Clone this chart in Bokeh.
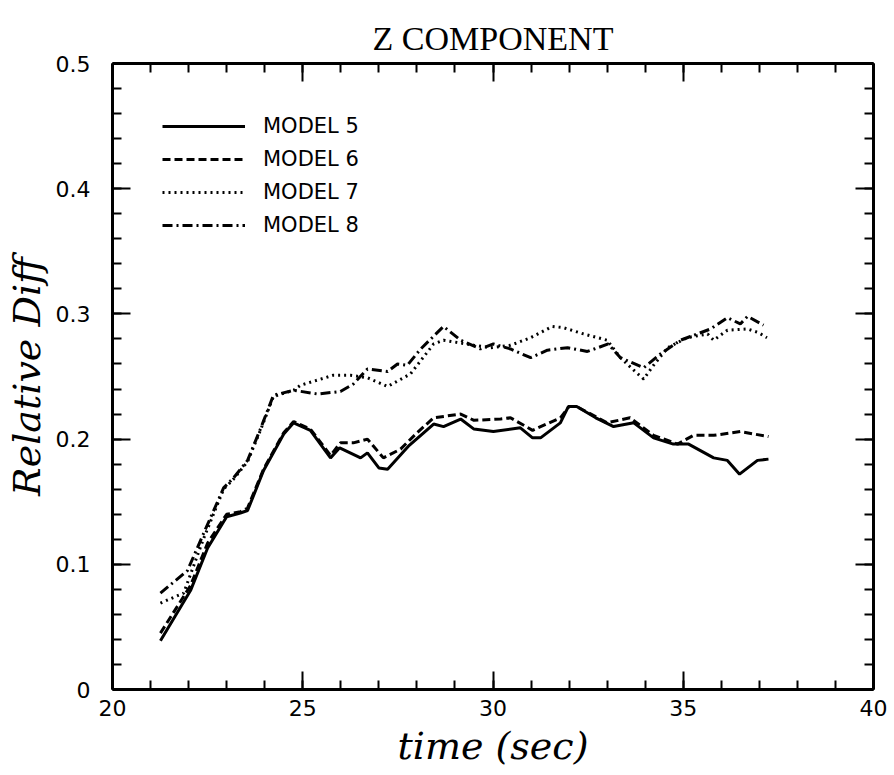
from bokeh.plotting import figure
from bokeh.models import Range1d, LinearAxis, FixedTicker, Legend, LegendItem
from bokeh.embed import file_html
from bokeh.resources import INLINE

# ---- data ----
m5_t = [21.26, 22.05, 22.5, 23.0, 23.36, 23.55, 23.97, 24.5, 24.76, 25.2, 25.73, 25.97,
        26.52, 26.7, 27.0, 27.23, 27.8, 28.44, 28.7, 29.15, 29.5, 30.01, 30.72, 31.04,
        31.25, 31.77, 31.98, 32.2, 32.7, 33.17, 33.7, 34.22, 34.74, 35.14, 35.8, 36.16,
        36.48, 36.95, 37.24]
m5_v = [0.039, 0.079, 0.113, 0.138, 0.141, 0.143, 0.175, 0.204, 0.213, 0.207, 0.185, 0.193,
        0.185, 0.189, 0.177, 0.176, 0.195, 0.212, 0.210, 0.216, 0.208, 0.206, 0.209, 0.201,
        0.201, 0.213, 0.226, 0.226, 0.217, 0.210, 0.213, 0.201, 0.196, 0.196, 0.185, 0.183,
        0.172, 0.183, 0.184]

m6_t = [21.26, 22.05, 22.5, 23.0, 23.36, 23.55, 23.97, 24.5, 24.76, 25.2, 25.73, 25.99,
        26.33, 26.7, 27.12, 27.57, 28.0, 28.44, 29.15, 29.5, 30.2, 30.46, 31.04, 31.77,
        32.0, 32.2, 33.0, 33.6, 34.22, 34.85, 35.27, 35.8, 36.5, 37.24]
m6_v = [0.045, 0.083, 0.117, 0.140, 0.142, 0.145, 0.176, 0.205, 0.214, 0.208, 0.187, 0.197,
        0.197, 0.200, 0.185, 0.192, 0.205, 0.217, 0.220, 0.215, 0.216, 0.217, 0.207, 0.217,
        0.226, 0.226, 0.213, 0.217, 0.203, 0.196, 0.203, 0.203, 0.206, 0.202]

m7_t = [21.26, 21.87, 22.4, 22.92, 23.18, 23.55, 23.9, 24.23, 24.76, 24.94, 25.8, 26.25,
        26.7, 27.23, 27.83, 28.44, 28.7, 29.5, 29.93, 30.46, 30.99, 31.56, 31.85, 32.38,
        33.0, 33.35, 33.7, 33.96, 34.22, 34.59, 35.1, 35.64, 35.8, 36.16, 36.69, 36.98, 37.2]
m7_v = [0.069, 0.077, 0.121, 0.160, 0.168, 0.182, 0.208, 0.234, 0.239, 0.243, 0.251, 0.251,
        0.249, 0.242, 0.252, 0.276, 0.279, 0.275, 0.273, 0.275, 0.281, 0.290, 0.289, 0.284,
        0.279, 0.265, 0.255, 0.248, 0.259, 0.273, 0.281, 0.284, 0.279, 0.287, 0.288, 0.285, 0.281]

m8_t = [21.26, 21.97, 22.4, 22.92, 23.18, 23.55, 23.9, 24.23, 24.76, 25.39, 25.99, 26.33,
        26.7, 27.23, 27.49, 27.75, 28.1, 28.7, 29.15, 29.67, 30.01, 30.46, 30.99, 31.43,
        31.96, 32.48, 33.03, 33.35, 33.96, 34.4, 34.93, 35.72, 36.16, 36.5, 36.69, 37.11]
m8_v = [0.077, 0.095, 0.125, 0.161, 0.169, 0.183, 0.209, 0.235, 0.239, 0.236, 0.238, 0.244,
        0.256, 0.254, 0.260, 0.259, 0.272, 0.290, 0.279, 0.272, 0.276, 0.272, 0.265, 0.271,
        0.273, 0.270, 0.276, 0.265, 0.257, 0.268, 0.279, 0.288, 0.297, 0.292, 0.298, 0.291]

labels = ["MODEL 5", "MODEL 6", "MODEL 7", "MODEL 8"]
x_major = [20, 25, 30, 35, 40]
x_minor = list(range(20, 41))
y_major = [0, 0.1, 0.2, 0.3, 0.4, 0.5]
y_minor = [round(i * 0.02, 2) for i in range(26)]
y_labels = {0: "0", 0.1: "0.1", 0.2: "0.2", 0.3: "0.3", 0.4: "0.4", 0.5: "0.5"}

p = figure(width=894, height=775, output_backend="svg", toolbar_location=None,
           x_range=Range1d(20, 40), y_range=Range1d(0, 0.5),
           min_border_left=112, min_border_right=21, min_border_top=63, min_border_bottom=86)
p.background_fill_color = "white"
p.border_fill_color = "white"
p.outline_line_color = None
p.xgrid.visible = False
p.ygrid.visible = False

bottom = p.below[0]
left = p.left[0]

p.title.text = "Z COMPONENT"
p.title.align = "center"
p.title.text_font = "Liberation Serif"
p.title.text_font_size = "34px"
p.title.text_font_style = "normal"
p.title.text_color = "black"
p.title.standoff = 14

xt = FixedTicker(ticks=x_major, minor_ticks=x_minor)
yt = FixedTicker(ticks=y_major, minor_ticks=y_minor)

top = LinearAxis(ticker=xt)
right = LinearAxis(ticker=yt)
p.add_layout(top, "above")
p.add_layout(right, "right")

bottom.ticker = xt
left.ticker = yt

for ax in [bottom, left, top, right]:
    ax.axis_line_width = 3
    ax.axis_line_color = "black"
    ax.major_tick_in = 18
    ax.major_tick_out = 0
    ax.minor_tick_in = 9
    ax.minor_tick_out = 0
    ax.major_tick_line_width = 2
    ax.minor_tick_line_width = 2
    ax.major_tick_line_color = "black"
    ax.minor_tick_line_color = "black"
    ax.major_label_text_font = "DejaVu Sans"
    ax.major_label_text_font_size = "22px"
    ax.major_label_text_color = "black"

top.major_label_overrides = {t: "" for t in x_major}
right.major_label_overrides = {t: "" for t in y_major}
top.major_label_standoff = 0
right.major_label_standoff = 0

left.major_label_overrides = y_labels
bottom.major_label_standoff = 10
left.major_label_standoff = 22

bottom.axis_label = "time (sec)"
left.axis_label = "Relative Diff"
for ax in [bottom, left]:
    ax.axis_label_text_font = "DejaVu Serif"
    ax.axis_label_text_font_style = "italic"
    ax.axis_label_text_font_size = "38px"
    ax.axis_label_text_color = "black"
bottom.axis_label_standoff = 5
left.axis_label_standoff = 4

r5 = p.line(m5_t, m5_v, line_color="black", line_width=3)
r6 = p.line(m6_t, m6_v, line_color="black", line_width=3, line_dash="8 4")
r7 = p.line(m7_t, m7_v, line_color="black", line_width=3, line_dash="2 4")
r8 = p.line(m8_t, m8_v, line_color="black", line_width=3, line_dash="10 4 2 4")

legend = Legend(items=[LegendItem(label=l, renderers=[r]) for l, r in zip(labels, [r5, r6, r7, r8])],
                location=(50, 452), orientation="vertical")
legend.border_line_color = None
legend.background_fill_alpha = 0
legend.glyph_width = 83
legend.glyph_height = 20
legend.label_height = 20
legend.label_standoff = 18
legend.spacing = 9
legend.padding = 0
legend.margin = 0
legend.label_text_font = "DejaVu Sans"
legend.label_text_font_size = "21px"
legend.label_text_color = "black"
p.add_layout(legend, "center")

open("out.html", "w").write(file_html(p, INLINE))
